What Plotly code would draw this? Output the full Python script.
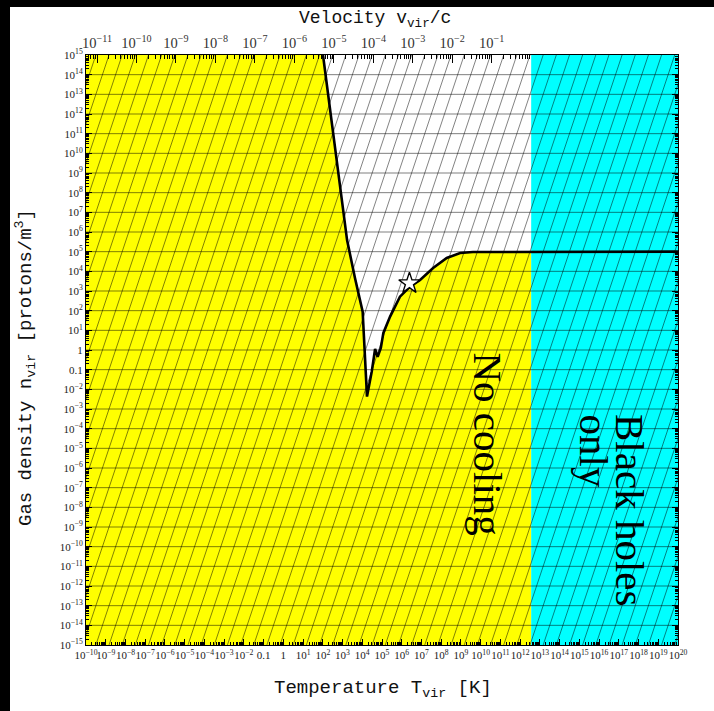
import numpy as np
import plotly.graph_objects as go

# ---- data (log10 values) ----
# cooling threshold: gas density vs virial temperature
curve_logT = [2.01, 2.62, 3.23, 3.63, 3.97, 4.02, 4.24, 4.34, 4.48, 4.65, 4.78,
              4.94, 5.07, 5.41, 5.91, 6.42, 6.93, 7.59, 8.28, 8.96, 9.61, 20.0]
curve_logn = [15.0, 10.3, 5.59, 3.66, 2.14, 1.95, -2.37, -1.86, -1.10, 0.05, -0.35,
              0.10, 0.87, 1.70, 2.71, 3.22, 3.56, 4.17, 4.68, 4.93, 4.98, 5.0]

# marked object
star_logT = [6.39]
star_logn = [3.39]

# temperature where v_vir reaches c
logT_light = 12.56

# axis extents and tick labels
logT_range = [-10, 20]
logn_range = [-15, 15]
bottom_exps = list(range(-10, 21))
left_exps = list(range(-15, 16))
velocity_exps = list(range(-11, 0))


def pow_label(e):
    if e == 0:
        return "1"
    if e == -1:
        return "0.1"
    return "10<sup>%s</sup>" % (str(e).replace("-", "\u2212"))


def tp(v):
    return [10.0 ** x for x in v]


fig = go.Figure()

# yellow: no-cooling zone (below curve, left of v = c)
yl_T = [logT_range[0], logT_range[0]]
yl_n = [logn_range[0], logn_range[1]]
for t, n in zip(curve_logT, curve_logn):
    if t < logT_light:
        yl_T.append(t)
        yl_n.append(n)
edge_n = [n for t, n in zip(curve_logT, curve_logn) if t < logT_light][-1]
yl_T += [logT_light, logT_light]
yl_n += [edge_n, logn_range[0]]
fig.add_trace(go.Scatter(x=tp(yl_T), y=tp(yl_n), fill="toself", mode="none",
                         fillcolor="#FFFF00", hoverinfo="skip", showlegend=False))

# cyan: black holes only
cy_T = [logT_light, logT_range[1], logT_range[1], logT_light, logT_light]
cy_n = [logn_range[0], logn_range[0], logn_range[1], logn_range[1], logn_range[0]]
fig.add_trace(go.Scatter(x=tp(cy_T), y=tp(cy_n), fill="toself", mode="none",
                         fillcolor="#00FFFF", hoverinfo="skip", showlegend=False))

# horizontal decade lines
hx, hy = [], []
for e in range(logn_range[0] + 1, logn_range[1]):
    hx += [10.0 ** logT_range[0], 10.0 ** logT_range[1], None]
    hy += [10.0 ** e, 10.0 ** e, None]
fig.add_trace(go.Scatter(x=hx, y=hy, mode="lines",
                         line=dict(color="rgba(0,0,0,0.5)", width=1),
                         hoverinfo="skip", showlegend=False))

# constant-mass guide lines: log n = 3 log T - k, one per decade of mass
dx, dy = [], []
for j in range(-23, 39):
    k = 2 * j + 0.5
    t0 = (k + logn_range[0]) / 3.0
    t1 = (k + logn_range[1]) / 3.0
    dx += [10.0 ** t0, 10.0 ** t1, None]
    dy += [10.0 ** logn_range[0], 10.0 ** logn_range[1], None]
fig.add_trace(go.Scatter(x=dx, y=dy, mode="lines",
                         line=dict(color="rgba(0,0,0,0.55)", width=0.9),
                         hoverinfo="skip", showlegend=False))

# threshold curve
fig.add_trace(go.Scatter(x=tp(curve_logT), y=tp(curve_logn), mode="lines",
                         line=dict(color="black", width=2.6),
                         hoverinfo="skip", showlegend=False))

# star
fig.add_trace(go.Scatter(x=tp(star_logT), y=tp(star_logn), mode="markers",
                         marker=dict(symbol="star", size=16, color="white",
                                     line=dict(color="black", width=1.4)),
                         hoverinfo="skip", showlegend=False))

# carrier for the velocity axis
fig.add_trace(go.Scatter(x=tp(logT_range), y=tp([logn_range[0]] * 2), xaxis="x2",
                         mode="lines", line=dict(width=0, color="rgba(0,0,0,0)"),
                         hoverinfo="skip", showlegend=False))

tick_font = dict(family="Liberation Serif", size=11, color="#222")

minor_T = [m * 10.0 ** e for e in range(logT_range[0], logT_range[1]) for m in range(2, 10)]
minor_n = [m * 10.0 ** e for e in range(logn_range[0], logn_range[1]) for m in range(2, 10)]
vel_T = [10.0 ** (2 * e + logT_light) for e in velocity_exps]
vel_minor = [10.0 ** (2 * (e + np.log10(m)) + logT_light)
             for e in range(-12, 0) for m in range(2, 10)]
vel_minor = [v for v in vel_minor if 10.0 ** logT_range[0] < v < 10.0 ** logT_range[1]]

fig.update_layout(
    width=714, height=711,
    margin=dict(l=86, r=36, t=55, b=66),
    paper_bgcolor="white", plot_bgcolor="white",
    xaxis=dict(type="log", range=logT_range, showgrid=False, zeroline=False,
               tickvals=tp(bottom_exps), ticktext=[pow_label(e) for e in bottom_exps],
               tickangle=0, tickfont=tick_font, ticks="inside", ticklen=6,
               tickcolor="black", showline=True, linecolor="black", linewidth=1,
               minor=dict(tickvals=minor_T, ticks="inside", ticklen=3, tickcolor="black")),
    xaxis2=dict(type="log", range=logT_range, overlaying="x", side="top",
                showgrid=False, zeroline=False, tickvals=vel_T,
                ticktext=[pow_label(e) if e != -1 else "10<sup>\u22121</sup>" for e in velocity_exps],
                tickangle=0, tickfont=dict(family="Liberation Serif", size=14.5, color="#333"),
                ticks="inside", ticklen=8, tickcolor="black",
                showline=True, linecolor="black", linewidth=1,
                minor=dict(tickvals=vel_minor, ticks="inside", ticklen=4, tickcolor="black")),
    yaxis=dict(type="log", range=logn_range, showgrid=False, zeroline=False,
               tickvals=tp(left_exps), ticktext=[pow_label(e) for e in left_exps],
               tickfont=tick_font, ticks="inside", ticklen=6, tickcolor="black",
               showline=True, linecolor="black", linewidth=1, mirror="ticks",
               minor=dict(tickvals=minor_n, ticks="inside", ticklen=3, tickcolor="black")),
)

# page frame strips
def px_x(p):
    return (p - 86) / 592.0


def px_y(p):
    return (645 - p) / 590.0


fig.add_shape(type="rect", xref="paper", yref="paper", x0=px_x(0), x1=px_x(10),
              y0=px_y(711), y1=px_y(0), fillcolor="black", line_width=0)
fig.add_shape(type="rect", xref="paper", yref="paper", x0=px_x(0), x1=px_x(714),
              y0=px_y(7), y1=px_y(0), fillcolor="black", line_width=0)

title_font = dict(family="Liberation Mono", size=19, color="#111")
fig.add_annotation(text="Velocity v<sub>vir</sub>/c", xref="paper", yref="paper",
                   x=px_x(375), y=px_y(19), xanchor="center", yanchor="middle",
                   showarrow=False, font=dict(family="Liberation Mono", size=18, color="#111"))
fig.add_annotation(text="Temperature T<sub>vir</sub> [K]", xref="paper", yref="paper",
                   x=px_x(383), y=px_y(689), xanchor="center", yanchor="middle",
                   showarrow=False, font=title_font)
fig.add_annotation(text="Gas density n<sub>vir</sub> [protons/m<sup>3</sup>]",
                   xref="paper", yref="paper", x=px_x(25), y=px_y(368),
                   xanchor="center", yanchor="middle",
                   textangle=-90, showarrow=False, font=title_font)

region_font = dict(family="Liberation Serif", size=41, color="black")
fig.add_annotation(text="No cooling", xref="paper", yref="paper",
                   x=px_x(488), y=px_y(350), xanchor="center", yanchor="top",
                   textangle=90, showarrow=False, font=region_font)
fig.add_annotation(text="Black holes", xref="paper", yref="paper",
                   x=px_x(630), y=px_y(412), xanchor="center", yanchor="top",
                   textangle=90, showarrow=False, font=region_font)
fig.add_annotation(text="only", xref="paper", yref="paper",
                   x=px_x(594), y=px_y(412), xanchor="center", yanchor="top",
                   textangle=90, showarrow=False, font=region_font)

fig.write_html("out.html")
